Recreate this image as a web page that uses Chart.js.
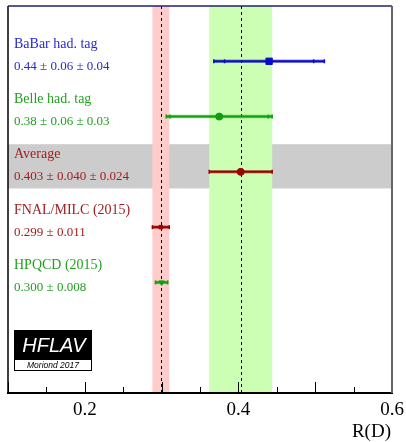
<!DOCTYPE html>
<html>
<head>
<meta charset="utf-8">
<script src="https://cdn.jsdelivr.net/npm/chart.js@4/dist/chart.umd.min.js"></script>
<style>
  html, body { margin: 0; padding: 0; background: #fff; }
  #box { width: 406px; height: 442px; }
</style>
</head>
<body>
<div id="box"><canvas id="myChart"></canvas></div>
<script>
var names = ['BaBar had. tag', 'Belle had. tag', 'Average', 'FNAL/MILC (2015)', 'HPQCD (2015)'];
var valueText = ['0.44 \u00b1 0.06 \u00b1 0.04', '0.38 \u00b1 0.06 \u00b1 0.03', '0.403 \u00b1 0.040 \u00b1 0.024', '0.299 \u00b1 0.011', '0.300 \u00b1 0.008'];
var rows = [5, 4, 3, 2, 1];
var centers = [0.440, 0.375, 0.403, 0.299, 0.300];
var statErr = [0.058, 0.064, null, null, null];
var totErr = [0.072, 0.069, 0.041, 0.011, 0.008];
var colors = ['#0a0ac8', '#119c11', '#990000', '#990000', '#119c11'];
var textColors = ['#2a2ac8', '#22a022', '#a02020', '#a02020', '#22a022'];
var markers = ['rect', 'circle', 'circle', 'rect', 'triangle'];
var markerSize = [4.5, 3.5, 3.5, 2.5, 3];
var markerRot = [0, 0, 0, 0, 180];

var xTickLabels = [0.2, 0.4, 0.6];
var expBand = [0.403, 0.041];
var latBand = [0.299, 0.011];
var avgRows = [2.7, 3.5];

var bandsPlugin = {
  id: 'bands',
  beforeDatasetsDraw: function(chart) {
    var ctx = chart.ctx;
    var xs = chart.scales.x;
    var ys = chart.scales.y;
    var a = chart.chartArea;
    ctx.save();
    ctx.beginPath();
    ctx.rect(a.left, a.top, a.right - a.left, a.bottom - a.top);
    ctx.clip();
    // gray row for the average
    var g1 = ys.getPixelForValue(avgRows[1]);
    var g2 = ys.getPixelForValue(avgRows[0]);
    ctx.fillStyle = '#cccccc';
    ctx.fillRect(a.left, g1, a.right - a.left, g2 - g1);
    // lattice band
    var l1 = xs.getPixelForValue(latBand[0] - latBand[1]);
    var l2 = xs.getPixelForValue(latBand[0] + latBand[1]);
    ctx.fillStyle = '#ffcccc';
    ctx.fillRect(l1, a.top, l2 - l1, a.bottom - a.top);
    // experimental average band
    var e1 = xs.getPixelForValue(expBand[0] - expBand[1]);
    var e2 = xs.getPixelForValue(expBand[0] + expBand[1]);
    ctx.fillStyle = '#ccffb3';
    ctx.fillRect(e1, a.top, e2 - e1, a.bottom - a.top);
    ctx.strokeStyle = '#000';
    ctx.lineWidth = 1;
    ctx.setLineDash([3, 3]);
    [latBand[0], expBand[0]].forEach(function(v) {
      var px = Math.round(xs.getPixelForValue(v)) + 0.5;
      ctx.beginPath();
      ctx.moveTo(px, a.top);
      ctx.lineTo(px, a.bottom);
      ctx.stroke();
    });
    ctx.setLineDash([]);
    // error bars
    for (var i = 0; i < rows.length; i++) {
      var y = ys.getPixelForValue(rows[i]);
      var x1 = xs.getPixelForValue(centers[i] - totErr[i]);
      var x2 = xs.getPixelForValue(centers[i] + totErr[i]);
      ctx.strokeStyle = colors[i];
      ctx.globalAlpha = 0.45;
      ctx.lineWidth = 3.5;
      ctx.beginPath();
      ctx.moveTo(x1, y);
      ctx.lineTo(x2, y);
      ctx.stroke();
      ctx.globalAlpha = 1;
      ctx.lineWidth = 2;
      ctx.beginPath();
      ctx.moveTo(x1, y);
      ctx.lineTo(x2, y);
      ctx.stroke();
      var caps = [x1, x2];
      if (statErr[i]) {
        caps.push(xs.getPixelForValue(centers[i] - statErr[i]));
        caps.push(xs.getPixelForValue(centers[i] + statErr[i]));
      }
      ctx.lineWidth = 1.5;
      caps.forEach(function(cx) {
        ctx.beginPath();
        ctx.moveTo(cx, y - 2);
        ctx.lineTo(cx, y + 2);
        ctx.stroke();
      });
    }
    ctx.restore();
  },
  afterDraw: function(chart) {
    var ctx = chart.ctx;
    var xs = chart.scales.x;
    var ys = chart.scales.y;
    var a = chart.chartArea;
    ctx.save();
    // labels
    ctx.textBaseline = 'middle';
    ctx.textAlign = 'left';
    for (var i = 0; i < rows.length; i++) {
      ctx.fillStyle = textColors[i];
      ctx.font = '14px "Liberation Serif", serif';
      ctx.fillText(names[i], a.left + 6, ys.getPixelForValue(rows[i] + 0.31));
      ctx.font = '13px "Liberation Serif", serif';
      ctx.fillText(valueText[i], a.left + 6, ys.getPixelForValue(rows[i] - 0.09));
    }
    // ticks inside frame
    ctx.strokeStyle = '#000';
    ctx.lineWidth = 1;
    xs.ticks.forEach(function(t) {
      var v = Math.round(t.value * 100);
      var major = v % 10 === 0;
      var px = Math.round(xs.getPixelForValue(t.value)) + 0.5;
      ctx.beginPath();
      ctx.moveTo(px, a.bottom);
      ctx.lineTo(px, a.bottom - (major ? 11 : 6));
      ctx.stroke();
    });
    // frame
    ctx.lineWidth = 1.5;
    ctx.strokeStyle = '#000';
    ctx.beginPath();
    ctx.moveTo(a.left, a.top);
    ctx.lineTo(a.left, a.bottom);
    ctx.stroke();
    ctx.lineWidth = 2;
    ctx.beginPath();
    ctx.moveTo(a.left - 1, a.bottom);
    ctx.lineTo(a.right + 1, a.bottom);
    ctx.stroke();
    ctx.strokeStyle = '#22226e';
    ctx.lineWidth = 1.5;
    ctx.beginPath();
    ctx.moveTo(a.left, a.top);
    ctx.lineTo(a.right, a.top);
    ctx.stroke();
    ctx.strokeStyle = '#666';
    ctx.lineWidth = 2;
    ctx.beginPath();
    ctx.moveTo(a.right, a.top);
    ctx.lineTo(a.right, a.bottom);
    ctx.stroke();
    // axis title
    ctx.fillStyle = '#000';
    ctx.font = '19px "Liberation Serif", serif';
    ctx.textAlign = 'right';
    ctx.textBaseline = 'middle';
    ctx.fillText('R(D)', a.right - 1, 432);
    // HFLAV logo
    ctx.fillStyle = '#000';
    ctx.fillRect(14, 330, 78, 30);
    ctx.fillStyle = '#fff';
    ctx.fillRect(14, 360, 78, 11);
    ctx.strokeStyle = '#000';
    ctx.lineWidth = 1;
    ctx.strokeRect(14.5, 330.5, 77, 40);
    ctx.textAlign = 'center';
    ctx.font = 'italic 20px "Liberation Sans", sans-serif';
    ctx.fillStyle = '#fff';
    ctx.fillText('HFLAV', 54, 346);
    ctx.font = 'italic 8.5px "Liberation Sans", sans-serif';
    ctx.fillStyle = '#000';
    ctx.fillText('Moriond 2017', 53, 366);
    ctx.restore();
  }
};

var points = [];
for (var i = 0; i < rows.length; i++) {
  points.push({ x: centers[i], y: rows[i] });
}

new Chart(document.getElementById('myChart'), {
  type: 'scatter',
  data: {
    datasets: [{
      data: points,
      pointStyle: markers,
      pointRadius: markerSize,
      pointRotation: markerRot,
      backgroundColor: colors,
      borderColor: colors,
      borderWidth: 1,
      clip: false
    }]
  },
  options: {
    responsive: true,
    maintainAspectRatio: false,
    animation: false,
    events: [],
    layout: { padding: { left: 8, right: 14, top: 6, bottom: 0 } },
    plugins: { legend: { display: false }, tooltip: { enabled: false } },
    scales: {
      x: {
        type: 'linear',
        min: 0.1,
        max: 0.6,
        afterFit: function(scale) {
          scale.height = 49;
          scale.paddingLeft = 0;
          scale.paddingRight = 0;
        },
        grid: { display: false, drawTicks: false },
        border: { display: false },
        ticks: {
          stepSize: 0.05,
          autoSkip: false,
          maxRotation: 0,
          padding: 6,
          color: '#000',
          font: { family: '"Liberation Serif", serif', size: 19 },
          callback: function(v) {
            var r = Math.round(v * 10) / 10;
            if (Math.abs(v - r) < 1e-6 && xTickLabels.indexOf(r) >= 0) return r.toFixed(1);
            return '';
          }
        }
      },
      y: {
        type: 'linear',
        min: -1,
        max: 6,
        display: false
      }
    }
  },
  plugins: [bandsPlugin]
});
</script>
</body>
</html>
